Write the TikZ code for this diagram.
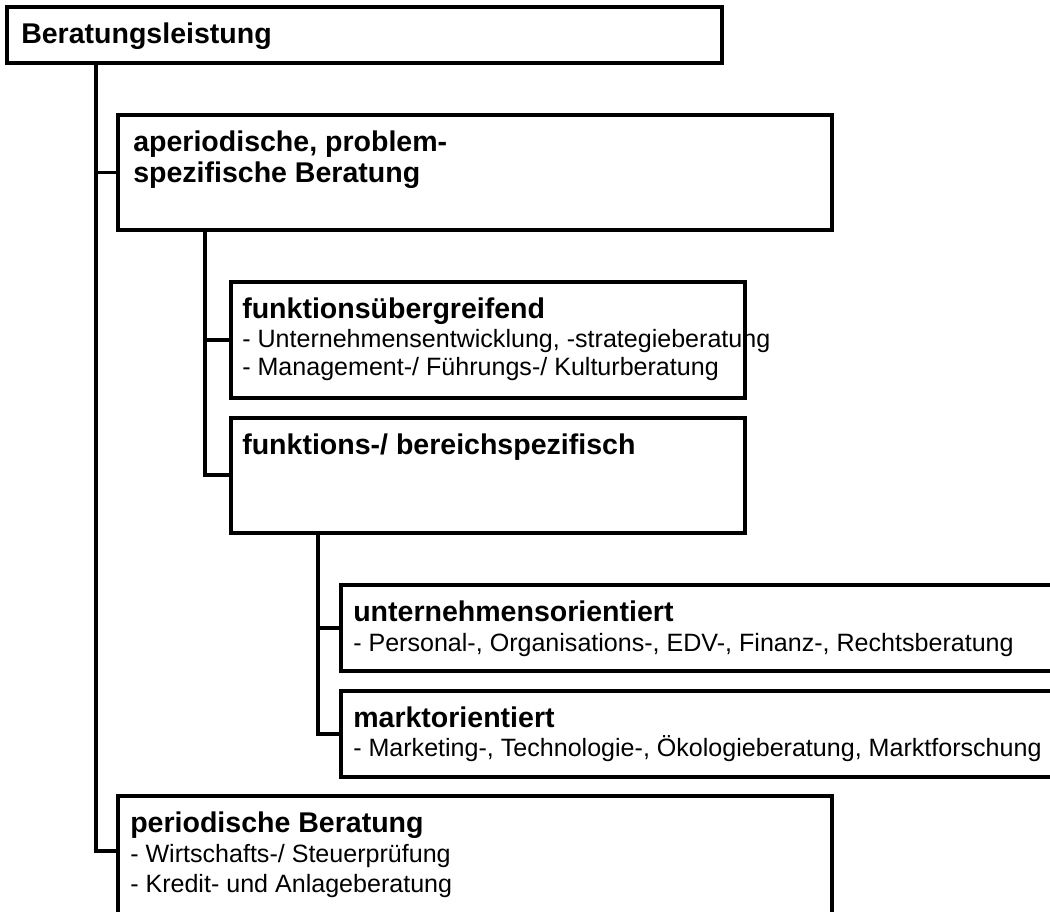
\documentclass[tikz,border=0pt]{standalone}
\usepackage{fontspec}
\setmainfont{Liberation Sans}
\begin{document}
\begin{tikzpicture}[x=0.75pt,y=-0.75pt,
  frame/.style={draw, line width=2.6pt, fill=white, inner sep=0pt, outer sep=0pt, anchor=north west},
  link/.style={line width=2.6pt},
  head/.style={anchor=base west, inner sep=0pt, font=\fontsize{21.4}{24}\selectfont\bfseries},
  item/.style={anchor=base west, inner sep=0pt, font=\fontsize{18.8}{22}\selectfont}]
\useasboundingbox (0,0) rectangle (1050,911);
\clip (0,0) rectangle (1050,911);

% boxes (size given in px: width*0.75pt, height*0.75pt)
\node[frame, minimum width=536.25pt, minimum height=42pt]  (b1) at (7,7) {};
\node[frame, minimum width=535.5pt,  minimum height=86.25pt] (b2) at (118,115) {};
\node[frame, minimum width=385.5pt,  minimum height=87pt]  (b3) at (231,282) {};
\node[frame, minimum width=385.5pt,  minimum height=86.25pt] (b4) at (231,418) {};
\node[frame, minimum width=543pt,    minimum height=64.5pt] (b5) at (341,585) {};
\node[frame, minimum width=543pt,    minimum height=64.5pt] (b6) at (341,691) {};
\node[frame, minimum width=535.5pt,  minimum height=105pt] (b7) at (118,796) {};

% trunk junctions
\coordinate (j1) at (96,851);
\coordinate (j2) at (205,475);
\coordinate (j3) at (318,734);

\draw[link] (j1 |- b1.south) -- (j1) -- (j1 -| b7.west);
\draw[link] (j1 |- b2.west) -- (b2.west);
\draw[link] (j2 |- b2.south) -- (j2) -- (j2 -| b4.west);
\draw[link] (j2 |- b3.west) -- (b3.west);
\draw[link] (j3 |- b4.south) -- (j3) -- (j3 -| b6.west);
\draw[link] (j3 |- b5.west) -- (b5.west);

% texts
\node[head] (t1) at (21,43) {Beratungsleistung};
\node[head] (t2a) at (133,151) {aperiodische, problem-};
\node[head] (t2b) at (133,182) {spezifische Beratung};
\node[head] (t3) at (242,318) {funktionsübergreifend};
\node[item] (t3a) at (242,347) {- Unternehmensentwicklung, -strategieberatung};
\node[item] (t3b) at (242,375) {- Management-/ Führungs-/ Kulturberatung};
\node[head] (t4) at (242,454) {funktions-/ bereichspezifisch};
\node[head] (t5) at (353,621) {unternehmensorientiert};
\node[item] (t5a) at (353,651) {- Personal-, Organisations-, EDV-, Finanz-, Rechtsberatung};
\node[head] (t6) at (353,727) {marktorientiert};
\node[item] (t6a) at (353,756) {- Marketing-, Technologie-, Ökologieberatung, Marktforschung};
\node[head] (t7) at (130,832) {periodische Beratung};
\node[item] (t7a) at (130,862) {- Wirtschafts-/ Steuerprüfung};
\node[item] (t7b) at (130,892) {- Kredit- und Anlageberatung};
\end{tikzpicture}
\end{document}
